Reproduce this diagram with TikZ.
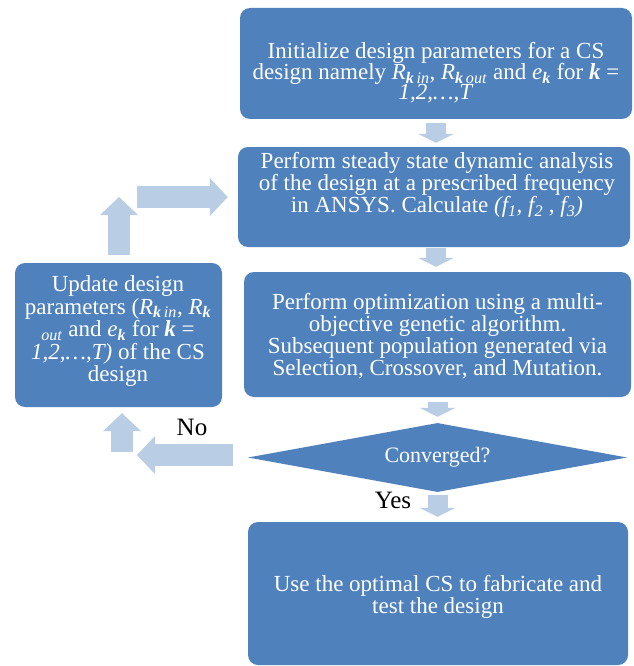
\documentclass[tikz,border=0pt]{standalone}
\usepackage{fontspec}
\setmainfont{Liberation Serif}
\usetikzlibrary{shapes.geometric, arrows.meta}

\definecolor{boxblue}{HTML}{4F81BD}
\definecolor{arrowblue}{HTML}{B9CDE5}
\newcommand{\kb}{\textbf{\textit{k}}}
\newcommand{\Rk}[1]{\textit{R}\textsubscript{\kb\,\textit{#1}}}
\lineskiplimit=-50pt

\begin{document}
\begin{tikzpicture}[x=1pt, y=-1pt,
    box/.style 2 args={fill=boxblue, rounded corners=10pt, inner sep=0pt,
      minimum width=#1, minimum height=#2},
    boxtext/.style={text=white, align=center, inner sep=0pt,
      font=\fontsize{23}{22}\selectfont},
    decision/.style={diamond, shape aspect=5.5, fill=boxblue, inner sep=0pt, text=white,
      font=\fontsize{22}{24}\selectfont},
    answer/.style={inner sep=0pt, font=\fontsize{25}{27}\selectfont},
    smallarrow/.style={draw=arrowblue, line width=20pt,
      -{Triangle[width=36pt, length=9pt, line width=0pt]}},
    bigarrow/.style={draw=arrowblue, line width=22pt,
      -{Triangle[width=38pt, length=18pt, line width=0pt]}}]
    \useasboundingbox (0,0) rectangle (633,666);

    % Main column of blocks
    \node[box={392pt}{111pt}] (init) at (436,63.5) {};
    \node[boxtext, font=\fontsize{23}{20.5}\selectfont] (init-txt) at (436,73)
      {Initialize design parameters for a CS\\
       design namely \Rk{in}, \Rk{out} and \textit{e}\textsubscript{\kb} for \kb{} =\\
       \textit{1,2,…,T}};

    \node[box={392pt}{100pt}] (analysis) at (434,197) {};
    \node[boxtext] (analysis-txt) at (437,185)
      {Perform steady state dynamic analysis\\
       of the design at a prescribed frequency\\
       in ANSYS. Calculate \textit{(f\textsubscript{1}, f\textsubscript{2} , f\textsubscript{3})}};

    \node[box={387pt}{125pt}] (optim) at (437.5,334.5) {};
    \node[boxtext] (optim-txt) at (437.5,336)
      {Perform optimization using a multi-\\
       objective genetic algorithm.\\
       Subsequent population generated via\\
       Selection, Crossover, and Mutation.};

    \node[decision, minimum width=379pt, minimum height=69pt] (conv) at (437.5,457.5) {Converged?};

    \node[box={380pt}{143pt}] (fab) at (438,593.5) {};
    \node[boxtext] (fab-txt) at (438,597)
      {Use the optimal CS to fabricate and\\
       test the design};

    % Update block on the left
    \node[box={207pt}{144pt}] (update) at (118.5,335) {};
    \node[boxtext, font=\fontsize{23}{22.5}\selectfont] (update-txt) at (118,331)
      {Update design\\
       parameters (\Rk{in}, \textit{R}\textsubscript{\kb}\\
       \textsubscript{\textit{out}} and \textit{e}\textsubscript{\kb} for \kb{} =\\
       \textit{1,2,…,T)} of the CS\\
       design};

    % Answers
    \node[answer] (no-lbl) at (192,427) {No};
    \node[answer] (yes-lbl) at (393,500) {Yes};

    % Block arrows down the main column
    \draw[smallarrow] ([yshift=-4pt]init.south) -- ([yshift=4pt]init.south |- analysis.north);
    \draw[smallarrow] ([yshift=-1pt]init.south |- analysis.south) -- ([yshift=5pt]init.south |- optim.north);
    \draw[smallarrow] ([yshift=-5pt]optim.south) -- ([yshift=6pt]conv.north);
    \draw[smallarrow] ([yshift=-3pt]conv.south) -- ([yshift=5pt]conv.south |- fab.north);

    % Loop back through the update block
    \coordinate (no-end) at (137,455);
    \coordinate (up-start) at (122,452);
    \coordinate (up-end) at (119,197);
    \draw[bigarrow] (no-end -| conv.west) ++(-15,0) -- (no-end);
    \draw[bigarrow] (up-start) -- ([yshift=-6pt]up-start |- update.south);
    \draw[bigarrow] ([yshift=8pt]up-end |- update.north) -- (up-end);
    \draw[bigarrow] ([xshift=18pt]up-end) -- ([xshift=-10pt]analysis.west);
\end{tikzpicture}
\end{document}
